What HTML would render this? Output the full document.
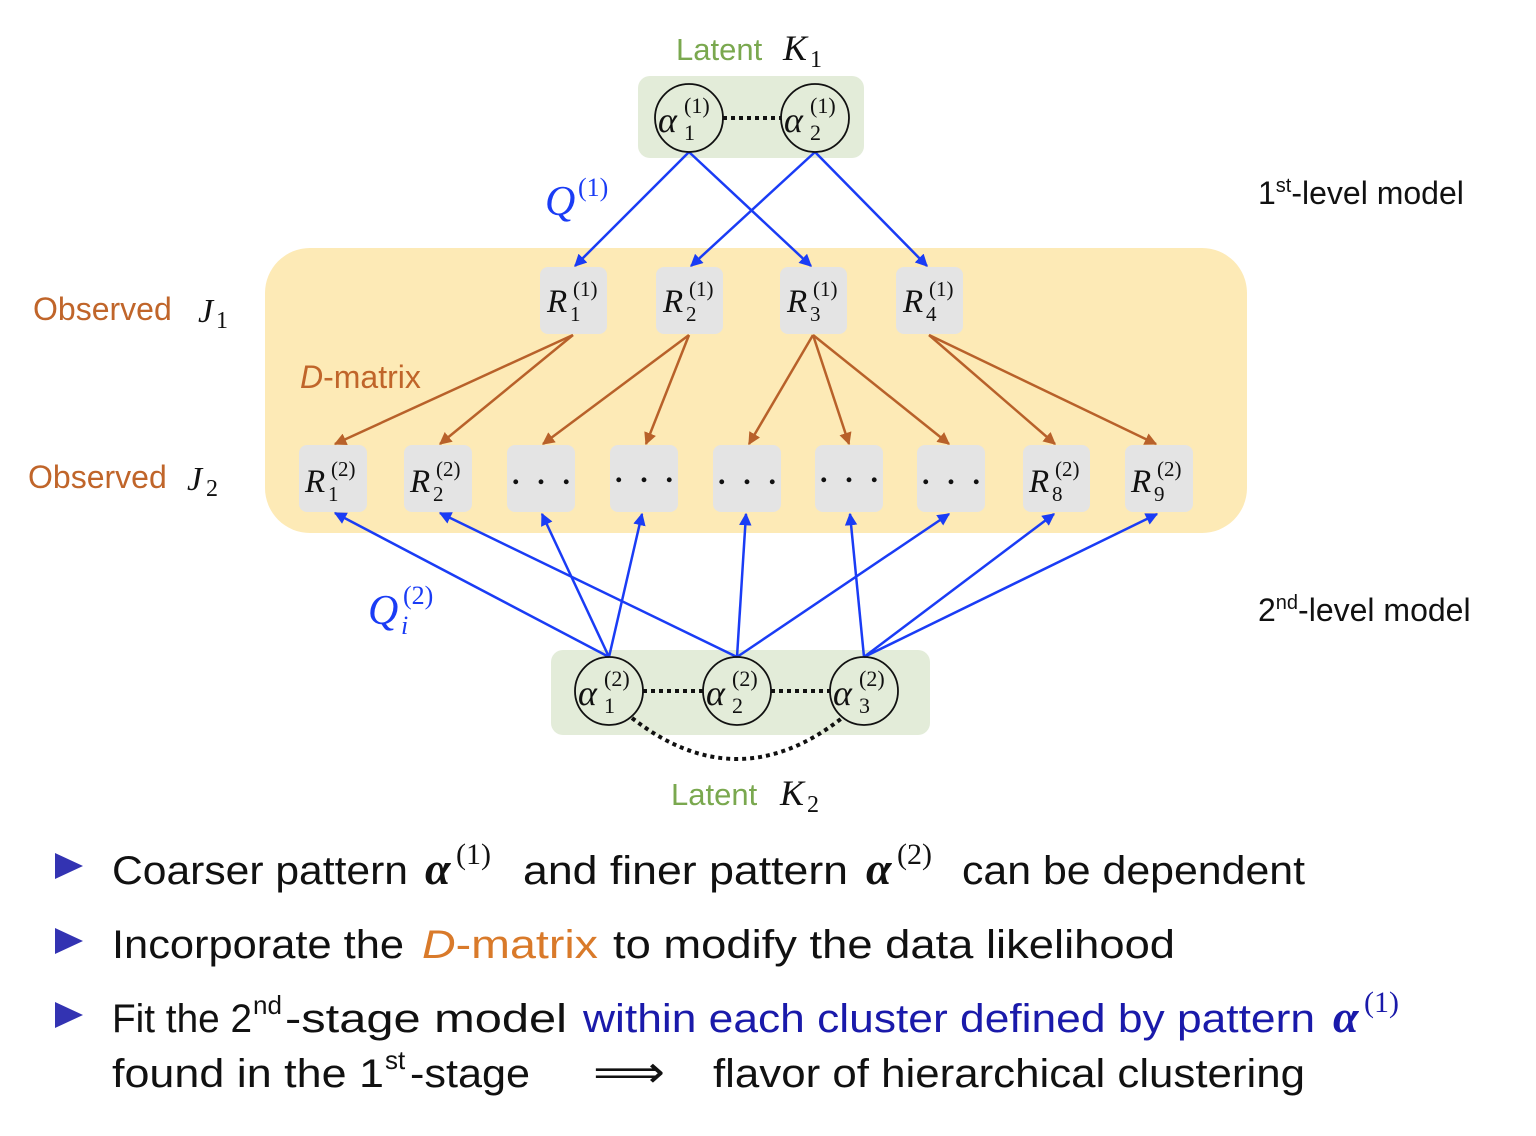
<!DOCTYPE html>
<html><head><meta charset="utf-8"><style>body{margin:0;background:#fff}svg{display:block}</style></head><body>
<svg width="1536" height="1136" viewBox="0 0 1536 1136" xmlns="http://www.w3.org/2000/svg">
<defs>
<marker id="ab" viewBox="0 0 10 10" refX="9" refY="5" markerWidth="5" markerHeight="5" orient="auto"><path d="M0,0L10,5L0,10z" fill="#1a3cf5"/></marker>
<marker id="ao" viewBox="0 0 10 10" refX="9" refY="5" markerWidth="5" markerHeight="5" orient="auto"><path d="M0,0L10,5L0,10z" fill="#b8612a"/></marker>
</defs>
<rect x="638" y="76" width="226" height="82" rx="12" fill="#e3ecd9"/>
<rect x="265" y="248" width="982" height="285" rx="45" fill="#fdeab6"/>
<rect x="551" y="650" width="379" height="85" rx="12" fill="#e3ecd9"/>
<g fill="#e4e4e4">
<rect x="540" y="267" width="67" height="67" rx="8"/><rect x="656" y="267" width="67" height="67" rx="8"/><rect x="780" y="267" width="67" height="67" rx="8"/><rect x="896" y="267" width="67" height="67" rx="8"/>
<rect x="299" y="445" width="68" height="67" rx="8"/><rect x="404" y="445" width="68" height="67" rx="8"/><rect x="507" y="445" width="68" height="67" rx="8"/><rect x="610" y="445" width="68" height="67" rx="8"/><rect x="713" y="445" width="68" height="67" rx="8"/><rect x="815" y="445" width="68" height="67" rx="8"/><rect x="917" y="445" width="68" height="67" rx="8"/><rect x="1023" y="445" width="67" height="67" rx="8"/><rect x="1125" y="445" width="68" height="67" rx="8"/>
</g>
<g stroke="#1a3cf5" stroke-width="2.5" fill="none" marker-end="url(#ab)">
<line x1="689" y1="152" x2="575" y2="266"/><line x1="689" y1="152" x2="811" y2="266"/>
<line x1="815" y1="152" x2="691" y2="266"/><line x1="815" y1="152" x2="927" y2="266"/>
</g>
<g stroke="#b8612a" stroke-width="2.5" fill="none" marker-end="url(#ao)">
<line x1="573" y1="335" x2="335" y2="444"/><line x1="573" y1="335" x2="440" y2="444"/>
<line x1="689" y1="335" x2="543" y2="444"/><line x1="689" y1="335" x2="646" y2="444"/>
<line x1="813" y1="335" x2="749" y2="444"/><line x1="813" y1="335" x2="849" y2="444"/><line x1="813" y1="335" x2="949" y2="444"/>
<line x1="929" y1="335" x2="1055" y2="444"/><line x1="929" y1="335" x2="1156" y2="444"/>
</g>
<g stroke="#1a3cf5" stroke-width="2.5" fill="none" marker-end="url(#ab)">
<line x1="609" y1="657" x2="335" y2="513"/><line x1="609" y1="657" x2="542" y2="514"/><line x1="609" y1="657" x2="642" y2="514"/>
<line x1="737" y1="657" x2="440" y2="513"/><line x1="737" y1="657" x2="746" y2="514"/><line x1="737" y1="657" x2="949" y2="514"/>
<line x1="864" y1="657" x2="850" y2="514"/><line x1="864" y1="657" x2="1054" y2="514"/><line x1="864" y1="657" x2="1157" y2="514"/>
</g>
<g stroke="#111" stroke-width="4" stroke-dasharray="4,4" fill="none">
<line x1="723" y1="118" x2="781" y2="118"/>
<line x1="643" y1="691" x2="703" y2="691"/><line x1="771" y1="691" x2="830" y2="691"/>
<path d="M632,718 Q737,800 842,718"/>
</g>
<g fill="none" stroke="#111" stroke-width="1.8">
<circle cx="689" cy="118" r="34"/><circle cx="815" cy="118" r="34"/>
<circle cx="609" cy="691" r="34"/><circle cx="737" cy="691" r="34"/><circle cx="864" cy="691" r="34"/>
</g>
<g font-family="Liberation Serif, serif" fill="#111">
<g font-size="36" font-style="italic"><text x="658" y="132">α</text><text x="784" y="132">α</text>
<text x="578" y="705">α</text><text x="706" y="705">α</text><text x="833" y="705">α</text></g>
<g font-size="22"><text x="684" y="140">1</text><text x="810" y="140">2</text><text x="684" y="113">(1)</text><text x="810" y="113">(1)</text>
<text x="604" y="713">1</text><text x="732" y="713">2</text><text x="859" y="713">3</text>
<text x="604" y="686">(2)</text><text x="732" y="686">(2)</text><text x="859" y="686">(2)</text></g>
<g font-size="33" font-style="italic"><text x="547" y="312">R</text><text x="663" y="312">R</text><text x="787" y="312">R</text><text x="903" y="312">R</text>
<text x="305" y="492">R</text><text x="410" y="492">R</text><text x="1029" y="492">R</text><text x="1131" y="492">R</text></g>
<g font-size="21"><text x="570" y="321">1</text><text x="686" y="321">2</text><text x="810" y="321">3</text><text x="926" y="321">4</text>
<text x="573" y="296">(1)</text><text x="689" y="296">(1)</text><text x="813" y="296">(1)</text><text x="929" y="296">(1)</text>
<text x="328" y="501">1</text><text x="433" y="501">2</text><text x="1052" y="501">8</text><text x="1154" y="501">9</text>
<text x="331" y="476">(2)</text><text x="436" y="476">(2)</text><text x="1055" y="476">(2)</text><text x="1157" y="476">(2)</text></g>
<g font-size="30" font-weight="bold"><text x="512" y="484" textLength="58">. . .</text><text x="615" y="482" textLength="58">. . .</text><text x="718" y="484" textLength="58">. . .</text><text x="820" y="482" textLength="58">. . .</text><text x="922" y="484" textLength="58">. . .</text></g>
<text x="783" y="60" font-size="36" font-style="italic">K</text><text x="810" y="67" font-size="24">1</text>
<text x="780" y="805" font-size="36" font-style="italic">K</text><text x="807" y="812" font-size="24">2</text>
<text x="198" y="322" font-size="34" font-style="italic">J</text><text x="216" y="328" font-size="24">1</text>
<text x="187" y="490" font-size="34" font-style="italic">J</text><text x="206" y="496" font-size="24">2</text>
<text x="545" y="215" font-size="42" font-style="italic" fill="#1a3cf5">Q</text><text x="578" y="196" font-size="26" fill="#1a3cf5">(1)</text>
<text x="368" y="624" font-size="42" font-style="italic" fill="#1a3cf5">Q</text><text x="403" y="604" font-size="26" fill="#1a3cf5">(2)</text><text x="401" y="634" font-size="26" font-style="italic" fill="#1a3cf5">i</text>
</g>
<g font-family="Liberation Sans, sans-serif">
<text x="676" y="60" font-size="31" fill="#7aa84f">Latent</text>
<text x="671" y="805" font-size="31" fill="#7aa84f">Latent</text>
<text x="33" y="320" font-size="32" fill="#c0652a">Observed</text>
<text x="28" y="488" font-size="32" fill="#c0652a">Observed</text>
<text x="300" y="388" font-size="32" fill="#c0652a"><tspan font-style="italic">D</tspan>-matrix</text>
<text x="1258" y="204" font-size="32" fill="#111">1<tspan font-size="20" dy="-12">st</tspan><tspan dy="12">-level model</tspan></text>
<text x="1258" y="621" font-size="32" fill="#111">2<tspan font-size="20" dy="-12">nd</tspan><tspan dy="12">-level model</tspan></text>
</g>
<g fill="#3333b2"><path d="M55,853L83,866L55,879z"/><path d="M55,928L83,941L55,954z"/><path d="M55,1002L83,1015L55,1028z"/></g>
<g font-family="Liberation Sans, sans-serif" font-size="40" fill="#111">
<text x="112" y="884" textLength="296" lengthAdjust="spacingAndGlyphs">Coarser pattern</text>
<text x="523" y="884" textLength="325" lengthAdjust="spacingAndGlyphs">and finer pattern</text>
<text x="962" y="884" textLength="343" lengthAdjust="spacingAndGlyphs">can be dependent</text>
<text x="112" y="958" textLength="292" lengthAdjust="spacingAndGlyphs">Incorporate the</text>
<text x="422" y="958" fill="#d97a2a" textLength="176" lengthAdjust="spacingAndGlyphs"><tspan font-style="italic">D</tspan>-matrix</text>
<text x="613" y="958" textLength="562" lengthAdjust="spacingAndGlyphs">to modify the data likelihood</text>
<text x="112" y="1032" textLength="140" lengthAdjust="spacingAndGlyphs">Fit the 2</text>
<text x="253" y="1014" font-size="26">nd</text>
<text x="285" y="1032" textLength="282" lengthAdjust="spacingAndGlyphs">-stage model</text>
<text x="583" y="1032" fill="#1a1aaa" textLength="732" lengthAdjust="spacingAndGlyphs">within each cluster defined by pattern</text>
<text x="112" y="1087" textLength="272" lengthAdjust="spacingAndGlyphs">found in the 1</text>
<text x="385" y="1069" font-size="26">st</text>
<text x="410" y="1087" textLength="120" lengthAdjust="spacingAndGlyphs">-stage</text>
<text x="713" y="1087" textLength="592" lengthAdjust="spacingAndGlyphs">flavor of hierarchical clustering</text>
</g>
<g font-family="Liberation Serif, serif" fill="#111">
<text x="425" y="884" font-size="46" font-style="italic" font-weight="bold">α</text><text x="456" y="864" font-size="30">(1)</text>
<text x="866" y="884" font-size="46" font-style="italic" font-weight="bold">α</text><text x="897" y="864" font-size="30">(2)</text>
<text x="1333" y="1032" font-size="46" font-style="italic" font-weight="bold" fill="#1a1aaa">α</text><text x="1364" y="1012" font-size="30" fill="#1a1aaa">(1)</text>
<text x="593" y="1087" font-size="44" textLength="72" lengthAdjust="spacingAndGlyphs">⟹</text>
</g>
</svg>
</body></html>
